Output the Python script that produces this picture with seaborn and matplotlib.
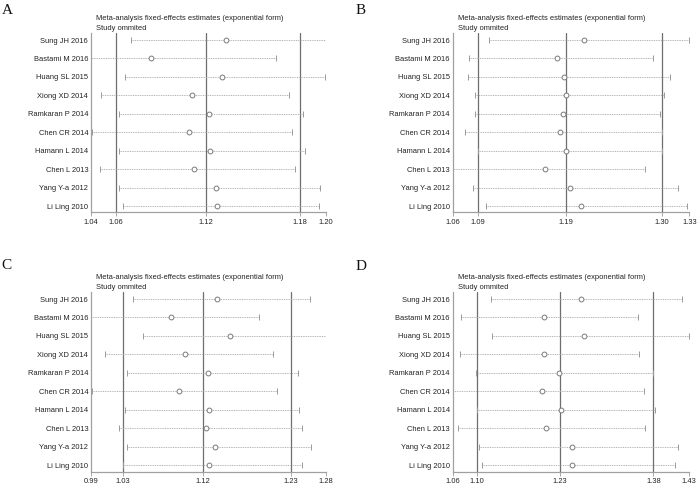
import numpy as np
import pandas as pd
import matplotlib
matplotlib.use("Agg")
import matplotlib.pyplot as plt
import seaborn as sns

studies = ["Sung JH 2016", "Bastami M 2016", "Huang SL 2015", "Xiong XD 2014",
           "Ramkaran P 2014", "Chen CR 2014", "Hamann L 2014", "Chen L 2013",
           "Yang Y-a 2012", "Li Ling 2010"]

# Panel A
a_est = [1.132, 1.081, 1.129, 1.109, 1.120, 1.107, 1.121, 1.110, 1.125, 1.126]
a_lo = [1.067, 1.038, 1.063, 1.047, 1.059, 1.041, 1.059, 1.046, 1.059, 1.062]
a_hi = [1.2005, 1.166, 1.199, 1.175, 1.184, 1.177, 1.186, 1.179, 1.196, 1.195]
a_ticks = [1.040, 1.057, 1.118, 1.182, 1.200]
a_labels = ["1.04", "1.06", "1.12", "1.18", "1.20"]

# Panel B
b_est = [1.210, 1.179, 1.187, 1.189, 1.186, 1.182, 1.189, 1.165, 1.194, 1.206]
b_lo = [1.101, 1.079, 1.078, 1.085, 1.086, 1.074, 1.089, 1.057, 1.083, 1.098]
b_hi = [1.330, 1.289, 1.308, 1.301, 1.296, 1.299, 1.299, 1.279, 1.317, 1.327]
b_ticks = [1.060, 1.089, 1.189, 1.299, 1.330]
b_labels = ["1.06", "1.09", "1.19", "1.30", "1.33"]

# Panel C
c_est = [1.146, 1.089, 1.161, 1.106, 1.134, 1.099, 1.135, 1.132, 1.143, 1.135]
c_lo = [1.042, 0.987, 1.054, 1.007, 1.034, 0.991, 1.032, 1.025, 1.034, 1.030]
c_hi = [1.260, 1.197, 1.281, 1.215, 1.245, 1.219, 1.247, 1.250, 1.262, 1.250]
c_ticks = [0.990, 1.029, 1.128, 1.237, 1.280]
c_labels = ["0.99", "1.03", "1.12", "1.23", "1.28"]

# Panel D
d_est = [1.260, 1.203, 1.266, 1.203, 1.227, 1.200, 1.229, 1.206, 1.246, 1.247]
d_lo = [1.120, 1.073, 1.121, 1.072, 1.096, 1.057, 1.0975, 1.069, 1.101, 1.106]
d_hi = [1.419, 1.350, 1.430, 1.352, 1.374, 1.359, 1.377, 1.361, 1.412, 1.407]
d_ticks = [1.060, 1.098, 1.228, 1.374, 1.430]
d_labels = ["1.06", "1.10", "1.23", "1.38", "1.43"]

panel_names = ["A", "B", "C", "D"]
title1 = "Meta-analysis fixed-effects estimates (exponential form)"
title2 = "Study ommited"

sns.set_theme(style="white")
plt.rcParams["font.family"] = ["Liberation Sans", "DejaVu Sans"]

W, H = 700, 490
fig = plt.figure(figsize=(7, 4.9), dpi=100)

# axes boxes in pixels: left, top, right, bottom
boxes = [(91, 33, 326, 212.5), (452.7, 33, 689.3, 212.5),
         (91, 292, 326, 471.7), (452.7, 292, 689.3, 471.7)]
label_pos = [(2, 13.5), (356, 13.5), (1, 269), (356, 270)]

panels = [(a_est, a_lo, a_hi, a_ticks, a_labels),
          (b_est, b_lo, b_hi, b_ticks, b_labels),
          (c_est, c_lo, c_hi, c_ticks, c_labels),
          (d_est, d_lo, d_hi, d_ticks, d_labels)]

txt_col = "#222222"
for (est, lo, hi, ticks, labels), (l, t, r, b), name, (lx, ly) in zip(panels, boxes, panel_names, label_pos):
    ax = fig.add_axes([l / W, 1 - b / H, (r - l) / W, (b - t) / H])
    df = pd.DataFrame({"study": studies, "est": est, "lo": lo, "hi": hi,
                       "row": np.arange(len(studies))})
    for xv in ticks[1:4]:
        ax.axvline(xv, color="#6e6e6e", lw=0.9, zorder=1)
    ax.hlines(df["row"], df["lo"], df["hi"], color="#a8a8a8", lw=0.6,
              linestyles=(0, (1.2, 0.9)), zorder=2)
    ax.plot(df["lo"], df["row"], ls="none", marker="|", ms=4, mew=0.7, color="#9a9a9a", zorder=2)
    ax.plot(df["hi"], df["row"], ls="none", marker="|", ms=4, mew=0.7, color="#9a9a9a", zorder=2)
    sns.scatterplot(data=df, x="est", y="row", ax=ax, marker="o", s=12,
                    facecolor="white", edgecolor="#7a7a7a", linewidth=0.7, zorder=3)
    ax.set_xlim(ticks[0], ticks[-1])
    ax.set_ylim(len(studies) - 1 + 0.35, -0.38)
    ax.set_yticks(df["row"])
    ax.set_yticklabels(studies, fontsize=5.4, color=txt_col)
    ax.set_xticks(ticks)
    ax.set_xticklabels(labels, fontsize=5.4, color=txt_col)
    ax.set_xlabel("")
    ax.set_ylabel("")
    ax.tick_params(axis="y", length=0, pad=2)
    ax.tick_params(axis="x", length=3, width=0.6, color="#9a9a9a", pad=1.5, direction="out", bottom=True)
    for s in ["top", "right"]:
        ax.spines[s].set_visible(False)
    for s in ["left", "bottom"]:
        ax.spines[s].set_color("#a0a0a0")
        ax.spines[s].set_linewidth(0.9)
    ax.annotate(title1, xy=(0, 1), xycoords="axes fraction", xytext=(3.5, 8.0),
                textcoords="offset points", fontsize=5.4, color=txt_col, va="bottom", ha="left")
    ax.annotate(title2, xy=(0, 1), xycoords="axes fraction", xytext=(3.5, 0.9),
                textcoords="offset points", fontsize=5.4, color=txt_col, va="bottom", ha="left")
    fig.text(lx / W, 1 - ly / H, name, fontsize=11, family=["Liberation Serif"],
             color="#111111", ha="left", va="baseline")

fig.savefig("out.png", dpi=100, facecolor="white")
